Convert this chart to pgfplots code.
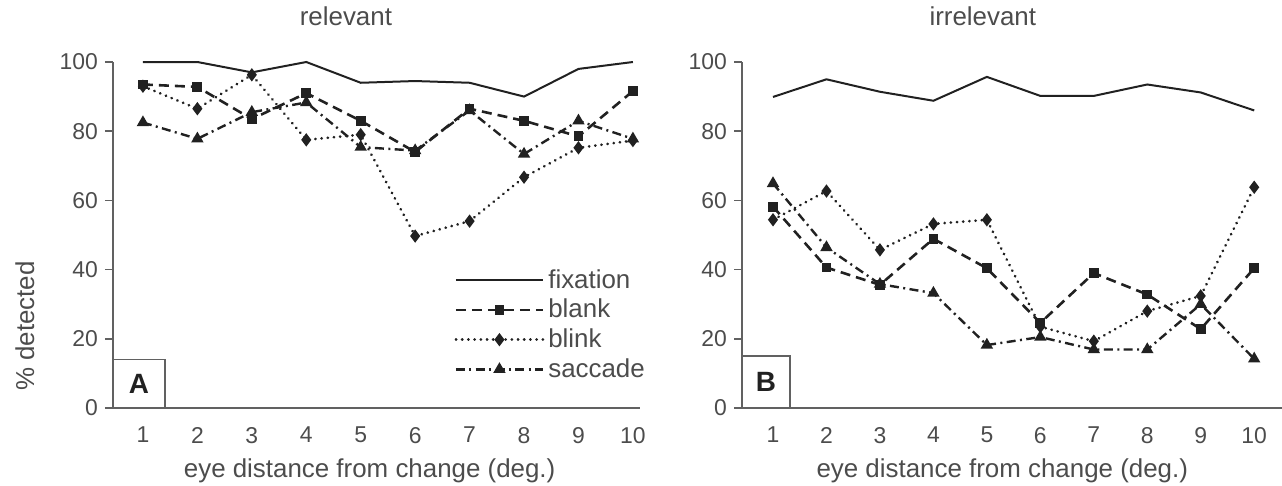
\documentclass[border=0pt]{standalone}
\usepackage{fontspec}
\setmainfont{Liberation Sans}
\usepackage{pgfplots}
\pgfplotsset{compat=1.18}

\definecolor{ink}{gray}{0.13}
\definecolor{axisgray}{gray}{0.38}
\definecolor{txt}{gray}{0.3}

\pgfplotsset{
  panel/.style={
    scale only axis,
    height=173bp,
    ymin=0, ymax=100,
    axis x line*=bottom, axis y line*=left,
    axis line style={axisgray, line width=0.9bp},
    xtick={1,...,10}, ytick={0,20,...,100},
    x tick style={draw=none},
    y tick style={axisgray, line width=0.8bp},
    tick align=outside, major tick length=4bp,
    tick label style={font=\fontsize{11.5}{13}\selectfont, text=txt},
    xticklabel style={yshift=-2bp},
    /pgf/number format/assume math mode=true,
    label style={font=\fontsize{13}{15}\selectfont, text=txt},
    title style={font=\fontsize{13}{15}\selectfont, text=txt, anchor=center},
    clip=false,
    legend image code/.code={
      \draw[mark repeat=2, mark phase=2, ##1]
        plot coordinates {(0bp,0bp) (21.75bp,0bp) (43.5bp,0bp)};},
  },
  fix/.style={ink, line width=1bp, mark=none},
  blank/.style={ink, line width=1.3bp, dash pattern=on 5bp off 3bp,
    mark=square*, mark size=1.8bp, mark options={solid}},
  blink/.style={ink, line width=1.4bp, line cap=round, dash pattern=on 0.1bp off 3bp,
    mark=diamond*, mark size=2.2bp, mark options={solid}},
  sacc/.style={ink, line width=1.2bp, dash pattern=on 4.5bp off 2.2bp on 1bp off 2.2bp,
    mark=triangle*, mark size=2.4bp, mark options={solid}},
}

\begin{document}
\begin{tikzpicture}
\useasboundingbox (0,0) rectangle (641bp,-243bp);

% panel A: relevant
\begin{axis}[panel,
  at={(56.5bp,-204bp)}, anchor=south west,
  width=263.5bp, xmin=0.45, xmax=10.13,
  title={relevant}, title style={at={(axis description cs:0.442,1.097)}},
  xlabel={eye distance from change (deg.)},
  xlabel style={at={(axis description cs:0.487,-0.182)}, anchor=center},
  ylabel={\% detected},
  ylabel style={at={(axis description cs:-0.167,0.237)}, anchor=center},
  legend style={at={(0.636,0.425)}, anchor=north west, draw=none, fill=none,
    font=\fontsize{13}{15}\selectfont, text=txt, cells={anchor=west}},
]
\addplot[fix] coordinates {(1,100) (2,100) (3,97) (4,100) (5,94) (6,94.5) (7,94) (8,90) (9,98) (10,100)};
\addplot[blank] coordinates {(1,93.5) (2,92.8) (3,83.5) (4,91) (5,83) (6,74) (7,86.5) (8,83) (9,78.5) (10,91.6)};
\addplot[blink] coordinates {(1,93) (2,86.5) (3,96.3) (4,77.5) (5,79) (6,49.7) (7,54) (8,66.7) (9,75.2) (10,77.3)};
\addplot[sacc] coordinates {(1,82.5) (2,77.8) (3,85.5) (4,88.3) (5,75.4) (6,74.4) (7,86) (8,73.4) (9,83) (10,77.8)};
\legend{fixation, blank, blink, saccade}
\draw[axisgray, line width=0.8bp] (rel axis cs:0,0) rectangle (axis cs:1.40,14);
\node[font=\bfseries\fontsize{14}{16}\selectfont, text=ink] at (axis cs:0.925,7) {A};
\end{axis}

% panel B: irrelevant
\begin{axis}[panel,
  at={(371bp,-204bp)}, anchor=south west,
  width=270bp, xmin=0.42, xmax=10.52,
  title={irrelevant}, title style={at={(axis description cs:0.446,1.097)}},
  xlabel={eye distance from change (deg.)},
  xlabel style={at={(axis description cs:0.482,-0.182)}, anchor=center},
]
\addplot[fix] coordinates {(1,89.9) (2,95) (3,91.4) (4,88.8) (5,95.7) (6,90.2) (7,90.2) (8,93.5) (9,91.2) (10,86)};
\addplot[blank] coordinates {(1,58.2) (2,40.6) (3,35.6) (4,48.9) (5,40.4) (6,24.6) (7,39) (8,32.8) (9,22.8) (10,40.4)};
\addplot[blink] coordinates {(1,54.4) (2,62.7) (3,45.7) (4,53.2) (5,54.4) (6,23.5) (7,19.3) (8,28) (9,32.4) (10,63.8)};
\addplot[sacc] coordinates {(1,64.9) (2,46.4) (3,35.8) (4,33.2) (5,18.2) (6,20.5) (7,16.9) (8,16.9) (9,30) (10,14.2)};
\draw[axisgray, line width=0.8bp] (rel axis cs:0,0) rectangle (axis cs:1.32,15);
\node[font=\bfseries\fontsize{14}{16}\selectfont, text=ink] at (axis cs:0.87,7.5) {B};
\end{axis}
\end{tikzpicture}
\end{document}
